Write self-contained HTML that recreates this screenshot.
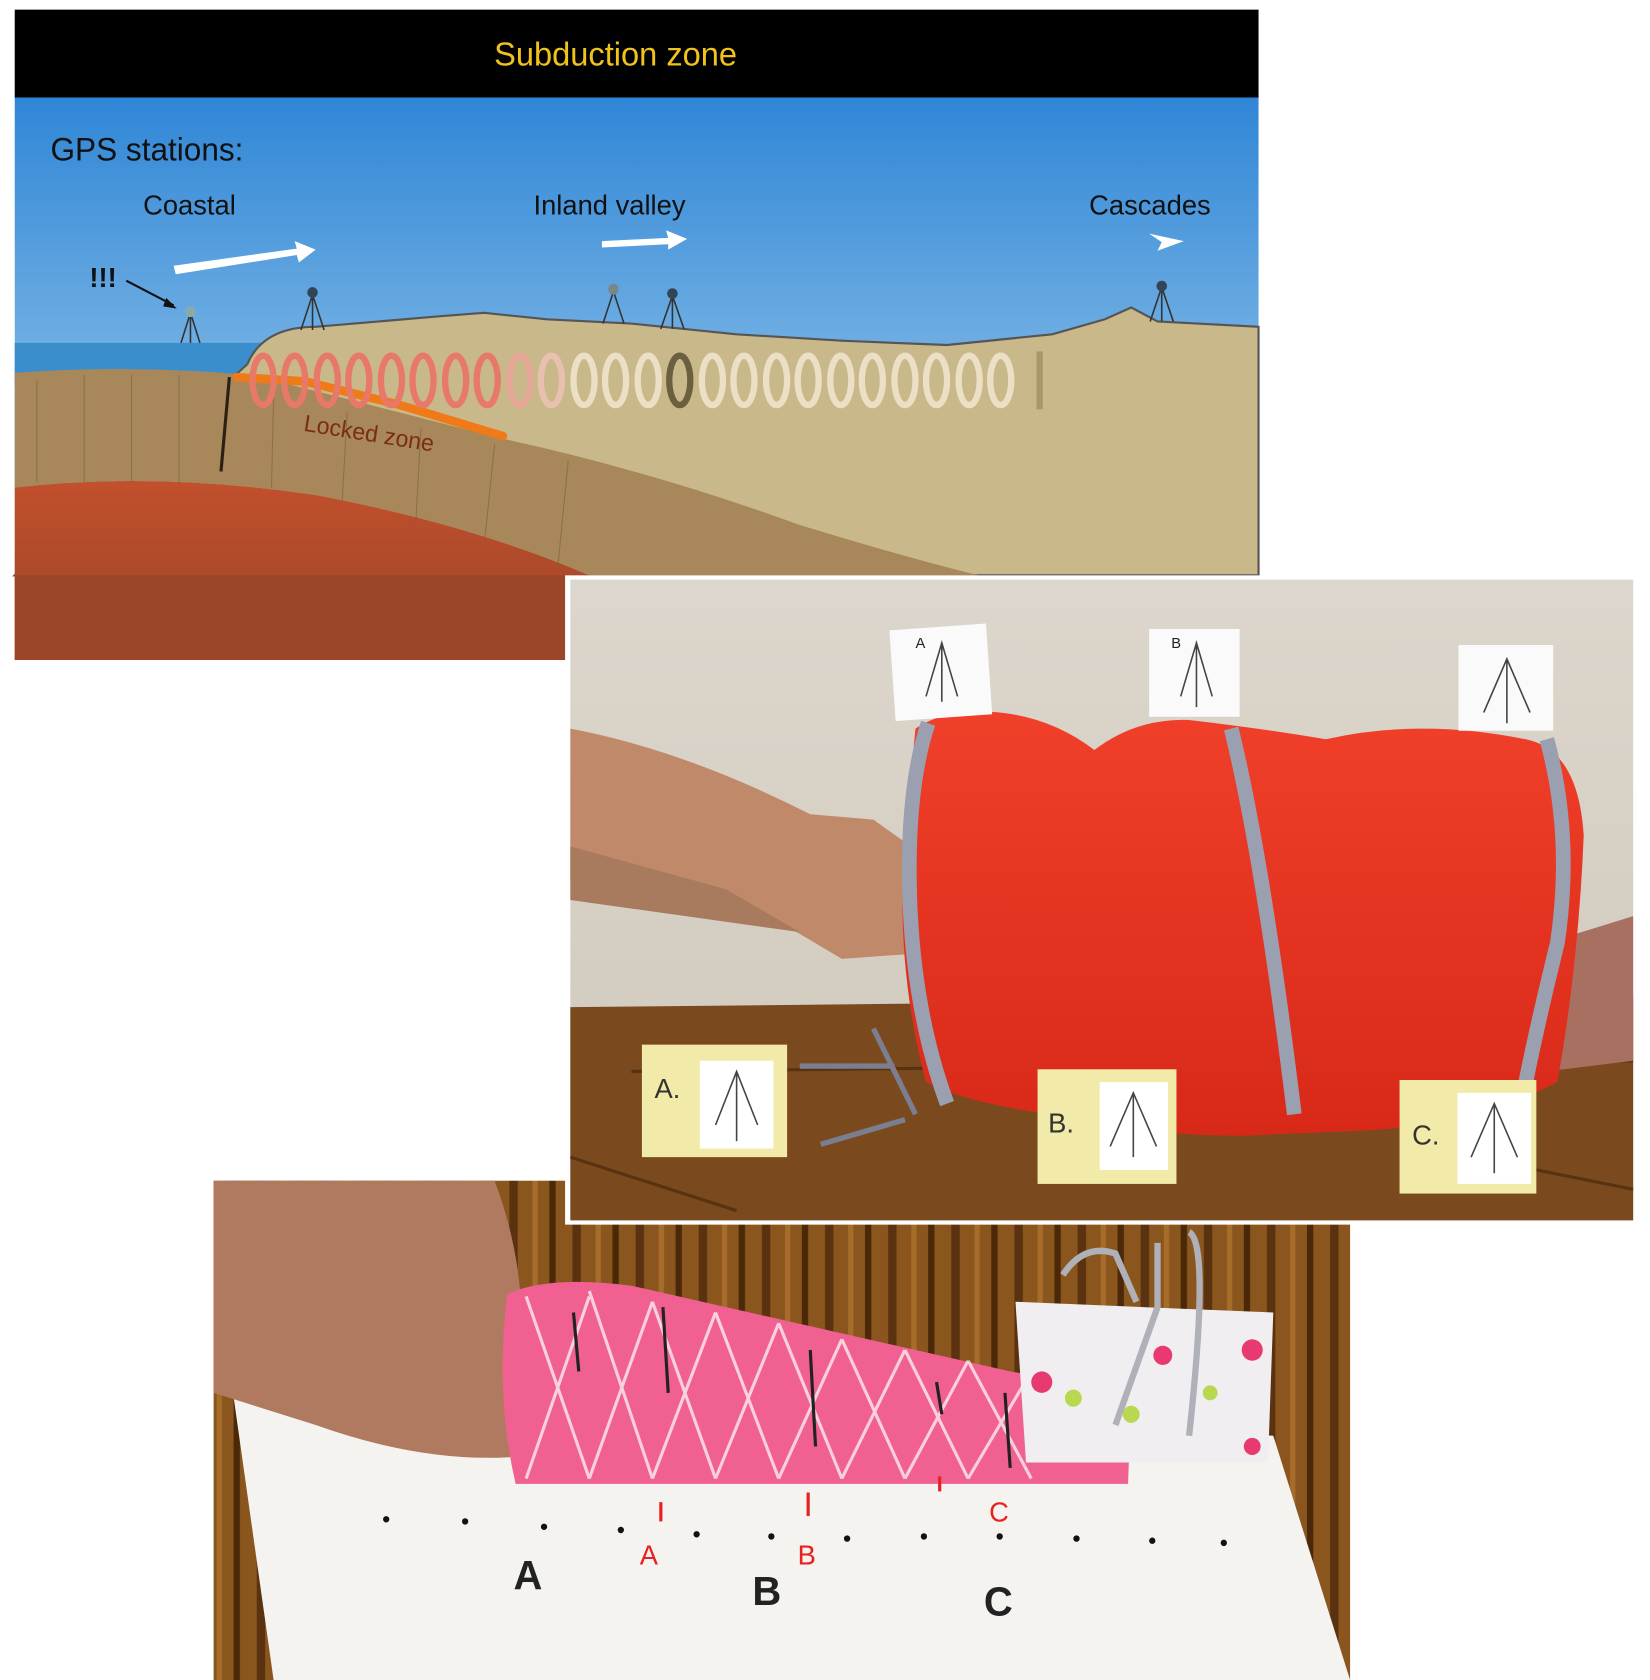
<!DOCTYPE html>
<html><head><meta charset="utf-8"><style>
html,body{margin:0;padding:0;background:#fff;}
svg{display:block;}
text{font-family:"Liberation Sans","DejaVu Sans",sans-serif;}
</style></head><body>
<svg width="1650" height="1680" viewBox="0 0 1568 1568" preserveAspectRatio="none" xmlns="http://www.w3.org/2000/svg">
<defs>
<linearGradient id="sky" x1="0" y1="0" x2="0" y2="1"><stop offset="0" stop-color="#2f86d6"/><stop offset="1" stop-color="#a9d2ee"/></linearGradient>
<linearGradient id="mantle" x1="0" y1="0" x2="0" y2="1"><stop offset="0" stop-color="#c2502c"/><stop offset="1" stop-color="#9a4428"/></linearGradient>
<linearGradient id="wall" x1="0" y1="0" x2="0" y2="1"><stop offset="0" stop-color="#dcd6cc"/><stop offset="1" stop-color="#cfc8bc"/></linearGradient>
<linearGradient id="red" x1="0" y1="0" x2="0" y2="1"><stop offset="0" stop-color="#f0402a"/><stop offset="1" stop-color="#d82818"/></linearGradient>
<pattern id="grain" width="60" height="200" patternUnits="userSpaceOnUse"><rect width="60" height="200" fill="#8a561e"/><rect x="4" width="8" height="200" fill="#5a3210"/><rect x="26" width="5" height="200" fill="#a86c2a"/><rect x="42" width="6" height="200" fill="#4a2808"/></pattern>
</defs>

<!-- TOP DIAGRAM -->
<rect x="14" y="90" width="1182" height="447" fill="url(#sky)"/>
<rect x="14" y="9" width="1182" height="82" fill="#000"/>
<text x="585" y="61" font-size="31" fill="#f0c21c" text-anchor="middle">Subduction zone</text>
<rect x="14" y="320" width="240" height="40" fill="#3a8ecc"/>
<path d="M235,340 Q250,305 300,305 L420,295 L460,292 L520,298 L600,302 L700,312 L800,318 L900,322 L1000,312 L1050,298 L1075,287 L1100,300 L1196,305 L1196,537 L14,537 Z" fill="#c9b889" stroke="#555" stroke-width="2"/>
<path d="M14,455 Q150,440 300,462 Q450,490 560,537 L540,537 L540,616 L14,616 Z" fill="url(#mantle)"/>
<rect x="14" y="537" width="526" height="79" fill="#9c4528"/>
<path d="M14,348 Q120,340 240,350 Q360,380 480,410 Q620,440 760,490 Q860,520 930,537 L560,537 Q450,490 300,462 Q150,440 14,455 Z" fill="#a8875a"/>
<g stroke="#7a6040" stroke-width="1" opacity="0.6">
<line x1="35" y1="355" x2="35" y2="450"/><line x1="80" y1="350" x2="80" y2="450"/><line x1="125" y1="350" x2="125" y2="450"/><line x1="170" y1="350" x2="170" y2="452"/><line x1="260" y1="370" x2="258" y2="455"/><line x1="330" y1="385" x2="325" y2="470"/><line x1="400" y1="400" x2="395" y2="490"/><line x1="470" y1="415" x2="460" y2="510"/><line x1="540" y1="430" x2="530" y2="530"/>
</g>
<line x1="218" y1="352" x2="210" y2="440" stroke="#2a2014" stroke-width="3"/>
<path d="M225,352 L290,356 L380,378 L478,407" stroke="#f07a18" stroke-width="8" fill="none" stroke-linecap="round"/>
<text x="288" y="402" font-size="22" fill="#7a2e12" transform="rotate(9 288 402)">Locked zone</text>
<g fill="none" stroke-width="6">
<g stroke="#e87868"><ellipse cx="250" cy="355" rx="10" ry="23"/><ellipse cx="280" cy="355" rx="10" ry="23"/><ellipse cx="311" cy="355" rx="10" ry="23"/><ellipse cx="341" cy="355" rx="10" ry="23"/><ellipse cx="372" cy="355" rx="10" ry="23"/><ellipse cx="402" cy="355" rx="10" ry="23"/><ellipse cx="433" cy="355" rx="10" ry="23"/><ellipse cx="463" cy="355" rx="10" ry="23"/><ellipse cx="494" cy="355" rx="10" ry="23" stroke="#e8a898"/><ellipse cx="524" cy="355" rx="10" ry="23" stroke="#e8c0b0"/></g>
<g stroke="#ebe0c6"><ellipse cx="555" cy="355" rx="10" ry="23"/><ellipse cx="585" cy="355" rx="10" ry="23"/><ellipse cx="616" cy="355" rx="10" ry="23"/><ellipse cx="646" cy="355" rx="10" ry="23" stroke="#6a6040"/><ellipse cx="677" cy="355" rx="10" ry="23"/><ellipse cx="707" cy="355" rx="10" ry="23"/><ellipse cx="738" cy="355" rx="10" ry="23"/><ellipse cx="768" cy="355" rx="10" ry="23"/><ellipse cx="799" cy="355" rx="10" ry="23"/><ellipse cx="829" cy="355" rx="10" ry="23"/><ellipse cx="860" cy="355" rx="10" ry="23"/><ellipse cx="890" cy="355" rx="10" ry="23"/><ellipse cx="921" cy="355" rx="10" ry="23"/><ellipse cx="951" cy="355" rx="10" ry="23"/></g>
</g>
<rect x="985" y="328" width="6" height="54" fill="#a89868"/>
<text x="48" y="150" font-size="30" fill="#111">GPS stations:</text>
<text x="136" y="200" font-size="26" fill="#111">Coastal</text>
<text x="507" y="200" font-size="26" fill="#111">Inland valley</text>
<text x="1035" y="200" font-size="26" fill="#111">Cascades</text>
<g fill="#fff"><path d="M165,248 L282,232 L280,225 L300,233 L284,245 L282,238 L167,256 Z"/><path d="M572,225 L635,222 L633,215 L653,223 L635,233 L635,228 L572,231 Z"/><path d="M1092,218 L1125,225 L1100,234 L1104,226 Z"/></g>
<text x="85" y="268" font-size="26" fill="#111" font-weight="bold">!!!</text>
<path d="M120,262 L165,285" stroke="#111" stroke-width="2"/><path d="M168,288 L158,278 L155,286 Z" fill="#111"/>
<g stroke="#333" stroke-width="1.5" fill="none">
<path d="M172,320 L181,292 L190,320 M181,292 L181,320"/><path d="M286,308 L297,275 L308,308 M297,275 L297,308"/><path d="M573,302 L583,272 L593,302"/><path d="M628,307 L639,276 L650,307 M639,276 L639,307"/><path d="M1093,300 L1104,268 L1115,300 M1104,268 L1104,300"/></g>
<g fill="#345"><circle cx="181" cy="291" r="5" fill="#8aa"/><circle cx="297" cy="273" r="5"/><circle cx="583" cy="270" r="5" fill="#788"/><circle cx="639" cy="274" r="5"/><circle cx="1104" cy="267" r="5"/></g>

<!-- BOTTOM PHOTO (drawn first, under middle photo) -->
<rect x="203" y="1102" width="1080" height="466" fill="url(#grain)"/>
<path d="M220,1290 L1210,1340 L1283,1568 L260,1568 Z" fill="#f4f3f0"/>
<path d="M203,1102 L470,1102 Q500,1180 495,1260 L485,1360 Q400,1365 300,1330 L203,1300 Z" fill="#b07a60"/>
<path d="M482,1208 Q520,1190 600,1200 L960,1280 L1075,1298 L1072,1385 L490,1385 Q470,1300 482,1208 Z" fill="#f06090"/>
<g stroke="#fff" stroke-width="3" opacity="0.7"><path d="M500,1210 L560,1380 M560,1205 L620,1380 M620,1215 L680,1380 M680,1225 L740,1380 M740,1235 L800,1380 M800,1250 L860,1380 M860,1260 L920,1380 M920,1270 L980,1380"/><path d="M560,1210 L500,1380 M620,1215 L560,1380 M680,1225 L620,1380 M740,1235 L680,1380 M800,1250 L740,1380 M860,1260 L800,1380 M920,1270 L860,1380 M980,1280 L920,1380"/></g>
<g stroke="#222" stroke-width="3"><path d="M545,1225 L550,1280 M630,1220 L635,1300 M770,1260 L775,1350 M890,1290 L895,1320 M955,1300 L960,1370"/></g>
<path d="M965,1215 L1210,1225 L1205,1365 L975,1365 Z" fill="#f0eef0"/>
<g fill="#e83a70"><circle cx="990" cy="1290" r="10"/><circle cx="1105" cy="1265" r="9"/><circle cx="1190" cy="1260" r="10"/><circle cx="1190" cy="1350" r="8"/></g>
<g fill="#b8d850"><circle cx="1020" cy="1305" r="8"/><circle cx="1075" cy="1320" r="8"/><circle cx="1150" cy="1300" r="7"/></g>
<path d="M1010,1190 Q1030,1160 1060,1170 L1080,1215 M1100,1160 L1100,1220 L1060,1330 M1130,1150 Q1150,1160 1130,1340" stroke="#b0b0b8" stroke-width="6" fill="none"/>
<g fill="#111"><circle cx="367" cy="1418" r="3"/><circle cx="442" cy="1420" r="3"/><circle cx="517" cy="1425" r="3"/><circle cx="590" cy="1428" r="3"/><circle cx="662" cy="1432" r="3"/><circle cx="733" cy="1434" r="3"/><circle cx="805" cy="1436" r="3"/><circle cx="878" cy="1434" r="3"/><circle cx="950" cy="1434" r="3"/><circle cx="1023" cy="1436" r="3"/><circle cx="1095" cy="1438" r="3"/><circle cx="1163" cy="1440" r="3"/></g>
<g fill="#e8201e" font-size="26"><text x="608" y="1460">A</text><text x="758" y="1460">B</text><text x="940" y="1420">C</text></g>
<g stroke="#e8201e" stroke-width="3"><line x1="628" y1="1402" x2="628" y2="1420"/><line x1="768" y1="1393" x2="768" y2="1415"/><line x1="893" y1="1378" x2="893" y2="1392"/></g>
<g fill="#222" font-size="38" font-weight="bold"><text x="488" y="1483">A</text><text x="715" y="1498">B</text><text x="935" y="1508">C</text></g>

<!-- MIDDLE PHOTO -->
<rect x="537" y="537" width="1018" height="606" fill="#fff"/>
<rect x="542" y="541" width="1010" height="598" fill="url(#wall)"/>
<path d="M542,940 L1552,930 L1552,1139 L542,1139 Z" fill="#7a4a1e"/>
<g stroke="#4a2a0e" stroke-width="3" opacity="0.7"><line x1="600" y1="1000" x2="1552" y2="990"/><line x1="542" y1="1080" x2="700" y2="1130"/><line x1="1450" y1="1090" x2="1552" y2="1110"/></g>
<path d="M542,680 Q650,700 770,760 L830,765 L880,800 L895,840 L870,890 L800,895 L740,860 L690,840 L542,820 Z" fill="#c08a6a"/>
<path d="M542,790 L690,830 L760,870 L542,840 Z" fill="#a87a5e"/>
<path d="M1470,880 L1552,855 L1552,990 L1470,1000 Z" fill="#a87060"/>
<path d="M870,680 Q900,660 950,665 Q1000,670 1040,700 Q1080,670 1130,672 Q1200,680 1260,690 Q1350,670 1450,690 Q1500,700 1505,780 Q1500,900 1480,1010 Q1400,1050 1300,1055 L1180,1060 Q1080,1060 1000,1040 Q920,1030 880,1010 Q850,900 860,780 Z" fill="url(#red)"/>
<g fill="none" stroke="#9aa0b0" stroke-width="14">
<path d="M882,675 Q860,740 865,850 Q870,950 900,1030"/>
<path d="M1170,680 Q1200,800 1230,1040"/>
<path d="M1470,690 Q1495,780 1480,880 Q1460,960 1450,1010"/>
</g>
<g><rect x="848" y="585" width="92" height="85" fill="#fafafa" transform="rotate(-4 894 627)"/><rect x="1092" y="587" width="86" height="82" fill="#fafafa"/><rect x="1386" y="602" width="90" height="80" fill="#fafafa"/>
<rect x="610" y="975" width="138" height="105" fill="#f2eaa8"/><rect x="986" y="998" width="132" height="107" fill="#f2eaa8"/><rect x="1330" y="1008" width="130" height="106" fill="#f2eaa8"/>
<rect x="665" y="990" width="70" height="82" fill="#fff"/><rect x="1045" y="1010" width="65" height="82" fill="#fff"/><rect x="1385" y="1020" width="70" height="85" fill="#fff"/></g>
<g stroke="#444" stroke-width="1.5" fill="none"><path d="M880,650 L895,600 L910,650 M895,600 L895,655"/><path d="M1122,650 L1137,600 L1152,650 M1137,600 L1137,660"/><path d="M1410,665 L1432,615 L1454,665 M1432,615 L1432,675"/><path d="M680,1050 L700,1000 L720,1050 M700,1000 L700,1065"/><path d="M1055,1070 L1077,1020 L1099,1070 M1077,1020 L1077,1080"/><path d="M1398,1080 L1420,1030 L1442,1080 M1420,1030 L1420,1095"/></g>
<text x="870" y="605" font-size="14" fill="#222">A</text><text x="1113" y="605" font-size="14" fill="#222">B</text>
<text x="622" y="1025" font-size="26" fill="#333" font-family="Liberation Serif">A.</text><text x="996" y="1057" font-size="26" fill="#333" font-family="Liberation Serif">B.</text><text x="1342" y="1068" font-size="26" fill="#333" font-family="Liberation Serif">C.</text>
<path d="M760,995 L850,995 M780,1068 L860,1045 M830,960 L870,1040" stroke="#7a7e90" stroke-width="5" fill="none"/>
</svg>
</body></html>
